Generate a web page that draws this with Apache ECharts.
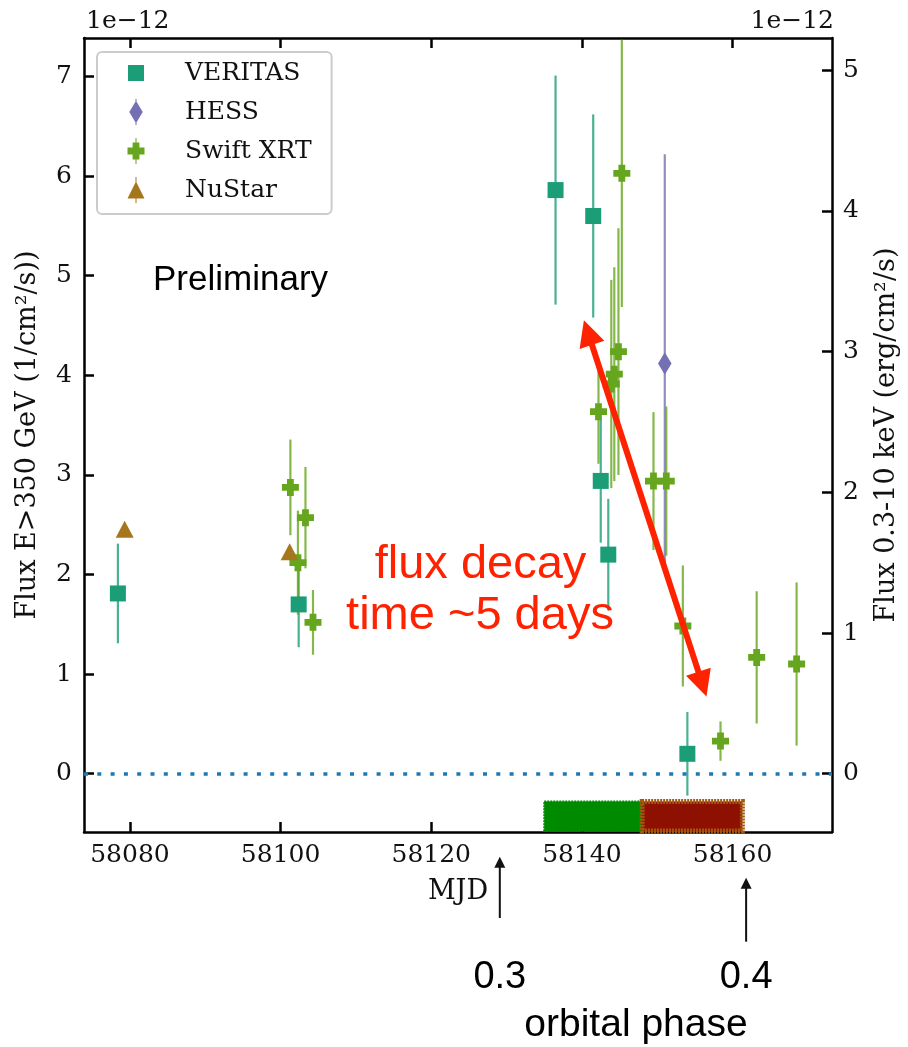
<!DOCTYPE html>
<html><head><meta charset="utf-8">
<script src="https://cdn.jsdelivr.net/npm/echarts@6/dist/echarts.min.js"></script>
<style>html,body{margin:0;padding:0;background:#fff}#c{width:908px;height:1047px}</style>
</head><body><div id="c"></div>
<script>
// ---- data ----
const xTicks = [58080, 58100, 58120, 58140, 58160];
const yLeftTicks = [0, 1, 2, 3, 4, 5, 6, 7];
const yRightTicks = [0, 1, 2, 3, 4, 5];

const veritasMJD  = [58078.4, 58102.4, 58136.5, 58141.5, 58142.5, 58143.5, 58154.0];
const veritasFlux = [1.81, 1.70, 5.86, 5.60, 2.94, 2.20, 0.20];
const veritasErr  = [0.50, 0.43, 1.15, 1.02, 0.62, 0.56, 0.42];

const hessMJD  = [58151.0];
const hessFlux = [4.12];
const hessErr  = [2.10];

const swiftMJD  = [58101.3, 58102.3, 58103.3, 58104.3, 58142.2, 58143.9, 58144.3, 58144.85, 58145.3, 58149.5, 58151.2, 58153.4, 58158.4, 58163.2, 58168.5];
const swiftFlux = [2.035, 1.50, 1.82, 1.076, 2.573, 2.77, 2.84, 3.00, 4.267, 2.08, 2.08, 1.05, 0.232, 0.827, 0.78];
const swiftErr  = [0.34, 0.37, 0.36, 0.23, 0.37, 0.74, 0.76, 0.877, 0.95, 0.49, 0.53, 0.43, 0.14, 0.47, 0.58];

const nustarMJD  = [58079.3, 58101.2];
const nustarFlux = [1.737, 1.578];

const phaseBinStart = [58135.0, 58148.0];
const phaseBinEnd   = [58148.0, 58161.3];

const decayArrowFrom = [58140.8, 4.43];
const decayArrowTo   = [58156.0, 0.90];

const orbitalPhase = ['0.3', '0.4'];
const orbitalPhaseMJD = [58129.1, 58161.8];

// ---- helpers ----
const zip3 = (a, b, c) => a.map((v, i) => [v, b[i], c ? c[i] : 0]);
const SERIF = 'DejaVu Serif';
const SANS = 'Liberation Sans';
const C_VER = '#1b9e77', C_HESS = '#7570b3', C_SWIFT = '#66a61e', C_NU = '#a6761d';

function errRender(color) {
  return function (params, api) {
    const x = api.value(0), y = api.value(1), e = api.value(2);
    const p1 = api.coord([x, y - e]), p2 = api.coord([x, y + e]);
    const cs = params.coordSys;
    const top = cs.y, bot = cs.y + cs.height;
    const c = v => Math.min(bot, Math.max(top, v));
    return { type: 'line', shape: { x1: p1[0], y1: c(p1[1]), x2: p2[0], y2: c(p2[1]) },
      style: { stroke: color, lineWidth: 2.2, opacity: 0.8 } };
  };
}
const phaseColors = [{ fill: '#008a00', stroke: '#008a00' }, { fill: '#8e1000', stroke: '#a3580e' }];
function phaseRender(params, api) {
  const i = params.dataIndex;
  const a = api.coord([api.value(0), -0.28]);
  const b = api.coord([api.value(1), -0.585]);
  const pc = phaseColors[i];
  return { type: 'rect', shape: { x: a[0], y: a[1], width: b[0] - a[0], height: b[1] - a[1] - 1 },
    style: { fill: pc.fill, stroke: pc.stroke, lineWidth: i ? 5 : 2, lineDash: [2, 1] } };
}

const speck = 'M0,0h0.01v0.01h-0.01Z M17.99,25.99h0.01v0.01h-0.01Z ';
const icons = {
  VERITAS: 'path://' + speck + 'M1,5H17V21H1Z',
  HESS: 'path://' + speck + 'M9,1.75L15.75,13L9,24.25L2.25,13Z M8.5,0H9.5V26H8.5Z',
  'Swift XRT': 'path://' + speck + 'M0.5,9.6H17.5V16.4H0.5Z M5.6,4.5H12.4V21.5H5.6Z M8.5,0H9.5V26H8.5Z',
  NuStar: 'path://' + speck + 'M9,4.5L17.5,21.5L0.5,21.5Z M8.5,0H9.5V26H8.5Z'
};
const plusSymbol = 'path://M0,4.5H15V10.5H0Z M4.5,0H10.5V15H4.5Z';

const axisLineStyle = { color: '#000', width: 2.5 };
const tickLabel = { fontFamily: SERIF, fontSize: 25, color: '#111' };

const chart = echarts.init(document.getElementById('c'), null, { renderer: 'canvas' });
const option = {
  animation: false,
  backgroundColor: '#fff',
  grid: { left: 84, right: 72, top: 38, bottom: 215, containLabel: false },
  legend: {
    orient: 'vertical', left: 97, top: 52, selectedMode: false,
    padding: [8, 20, 11, 30], itemGap: 13, itemWidth: 18, itemHeight: 26,
    backgroundColor: 'rgba(255,255,255,0.8)', borderColor: '#cccccc', borderWidth: 2, borderRadius: 5,
    textStyle: { fontFamily: SERIF, fontSize: 25, color: '#111', padding: [0, 0, 0, 35] },
    data: ['VERITAS', 'HESS', 'Swift XRT', 'NuStar'].map(n => ({ name: n, icon: icons[n] }))
  },
  xAxis: [
    { type: 'value', position: 'bottom', min: 58073.9, max: 58173.2,
      name: 'MJD', nameLocation: 'middle', nameGap: 46,
      nameTextStyle: { fontFamily: SERIF, fontSize: 27, color: '#111' },
      axisLine: { show: true, onZero: false, lineStyle: axisLineStyle },
      axisTick: { show: true, inside: true, length: 10, customValues: xTicks, lineStyle: { width: 2.5, color: '#000' } },
      axisLabel: Object.assign({ customValues: xTicks, margin: 11, formatter: v => String(v) }, tickLabel),
      splitLine: { show: false } },
    { type: 'value', position: 'top', min: 58073.9, max: 58173.2,
      axisLine: { show: true, onZero: false, lineStyle: axisLineStyle },
      axisTick: { show: true, inside: true, length: 10, customValues: xTicks, lineStyle: { width: 2.5, color: '#000' } },
      axisLabel: { show: false }, splitLine: { show: false } }
  ],
  yAxis: [
    { type: 'value', position: 'left', min: -0.585, max: 7.387,
      name: 'Flux E>350 GeV (1/cm²/s))', nameLocation: 'middle', nameGap: 43, nameRotate: 90,
      nameTextStyle: { fontFamily: SERIF, fontSize: 27, color: '#111' },
      axisLine: { show: true, onZero: false, lineStyle: axisLineStyle },
      axisTick: { show: true, inside: true, length: 10, customValues: yLeftTicks, lineStyle: { width: 2.5, color: '#000' } },
      axisLabel: Object.assign({ customValues: yLeftTicks, margin: 12, formatter: v => String(v) }, tickLabel),
      splitLine: { show: false } },
    { type: 'value', position: 'right', min: -0.414, max: 5.229,
      name: 'Flux 0.3-10 keV (erg/cm²/s)', nameLocation: 'middle', nameGap: 41, nameRotate: 90,
      nameTextStyle: { fontFamily: SERIF, fontSize: 27, color: '#111' },
      axisLine: { show: true, onZero: false, lineStyle: axisLineStyle },
      axisTick: { show: true, inside: true, length: 10, customValues: yRightTicks, lineStyle: { width: 2.5, color: '#000' } },
      axisLabel: Object.assign({ customValues: yRightTicks, margin: 11, formatter: v => String(v) }, tickLabel),
      splitLine: { show: false } }
  ],
  series: [
    { name: 'phase bins', type: 'custom', xAxisIndex: 0, yAxisIndex: 0, z: 1,
      renderItem: phaseRender, data: phaseBinStart.map((s, i) => [s, phaseBinEnd[i]]),
      encode: { x: [0, 1] } },
    { name: 'VERITAS err', type: 'custom', xAxisIndex: 0, yAxisIndex: 0, z: 2,
      renderItem: errRender(C_VER), data: zip3(veritasMJD, veritasFlux, veritasErr), encode: { x: 0, y: 1 } },
    { name: 'HESS err', type: 'custom', xAxisIndex: 0, yAxisIndex: 0, z: 2,
      renderItem: errRender(C_HESS), data: zip3(hessMJD, hessFlux, hessErr), encode: { x: 0, y: 1 } },
    { name: 'Swift err', type: 'custom', xAxisIndex: 0, yAxisIndex: 1, z: 2,
      renderItem: errRender(C_SWIFT), data: zip3(swiftMJD, swiftFlux, swiftErr), encode: { x: 0, y: 1 } },
    { name: 'VERITAS', type: 'scatter', xAxisIndex: 0, yAxisIndex: 0, z: 3,
      symbol: 'rect', symbolSize: 16, itemStyle: { color: C_VER, opacity: 1 },
      data: veritasMJD.map((m, i) => [m, veritasFlux[i]]),
      markLine: { silent: true, symbol: 'none', label: { show: false },
        lineStyle: { color: '#1f77b4', width: 3.5, type: [4, 9.3], cap: 'butt' },
        data: [{ yAxis: 0 }] } },
    { name: 'HESS', type: 'scatter', xAxisIndex: 0, yAxisIndex: 0, z: 3,
      symbol: 'diamond', symbolSize: [13.5, 22.5], itemStyle: { color: C_HESS, opacity: 1 },
      data: hessMJD.map((m, i) => [m, hessFlux[i]]) },
    { name: 'Swift XRT', type: 'scatter', xAxisIndex: 0, yAxisIndex: 1, z: 3,
      symbol: plusSymbol, symbolSize: 17, itemStyle: { color: C_SWIFT, opacity: 1 },
      data: swiftMJD.map((m, i) => [m, swiftFlux[i]]) },
    { name: 'NuStar', type: 'scatter', xAxisIndex: 0, yAxisIndex: 1, z: 3,
      symbol: 'triangle', symbolSize: [18, 17], itemStyle: { color: C_NU, opacity: 1 },
      data: nustarMJD.map((m, i) => [m, nustarFlux[i]]) },
    { name: 'decay arrow', type: 'lines', coordinateSystem: 'cartesian2d', xAxisIndex: 0, yAxisIndex: 0, z: 5,
      symbol: ['triangle', 'triangle'], symbolSize: 26,
      lineStyle: { color: '#ff2200', width: 6, opacity: 1, curveness: 0 },
      data: [{ coords: [decayArrowFrom, decayArrowTo] }] }
  ]
};
chart.setOption(option);

const px = orbitalPhaseMJD.map(m => chart.convertToPixel({ xAxisIndex: 0 }, m));
const arrowTip = [856.7, 877.7], arrowTail = [918, 941.7];
const g = [
  { type: 'text', z: 10, style: { text: '1e\u221212', x: 86, y: 21, fontFamily: SERIF, fontSize: 25, fill: '#111', align: 'left', verticalAlign: 'middle' } },
  { type: 'text', z: 10, style: { text: '1e\u221212', x: 834, y: 21, fontFamily: SERIF, fontSize: 25, fill: '#111', align: 'right', verticalAlign: 'middle' } },
  { type: 'text', z: 10, style: { text: 'Preliminary', x: 153, y: 280, fontFamily: SANS, fontSize: 35, fill: '#000', align: 'left', verticalAlign: 'middle' } },
  { type: 'text', z: 10, style: { text: 'flux decay', x: 480.5, y: 565, fontFamily: SANS, fontSize: 47, fill: '#ff2200', align: 'center', verticalAlign: 'middle' } },
  { type: 'text', z: 10, style: { text: 'time ~5 days', x: 480, y: 616, fontFamily: SANS, fontSize: 47, fill: '#ff2200', align: 'center', verticalAlign: 'middle' } },
  { type: 'text', z: 10, style: { text: 'orbital phase', x: 636, y: 1025, fontFamily: SANS, fontSize: 39, fill: '#000', align: 'center', verticalAlign: 'middle' } }
];
px.forEach((x, i) => {
  g.push({ type: 'line', z: 10, shape: { x1: x, y1: arrowTail[i], x2: x, y2: arrowTip[i] + 9 }, style: { stroke: '#111', lineWidth: 2 } });
  g.push({ type: 'polygon', z: 10, shape: { points: [[x, arrowTip[i]], [x - 5.5, arrowTip[i] + 11], [x + 5.5, arrowTip[i] + 11]] }, style: { fill: '#111' } });
  g.push({ type: 'text', z: 10, style: { text: orbitalPhase[i], x: x, y: 978, fontFamily: SANS, fontSize: 38, fill: '#000', align: 'center', verticalAlign: 'middle' } });
});
chart.setOption({ graphic: g });
</script>
</body></html>
